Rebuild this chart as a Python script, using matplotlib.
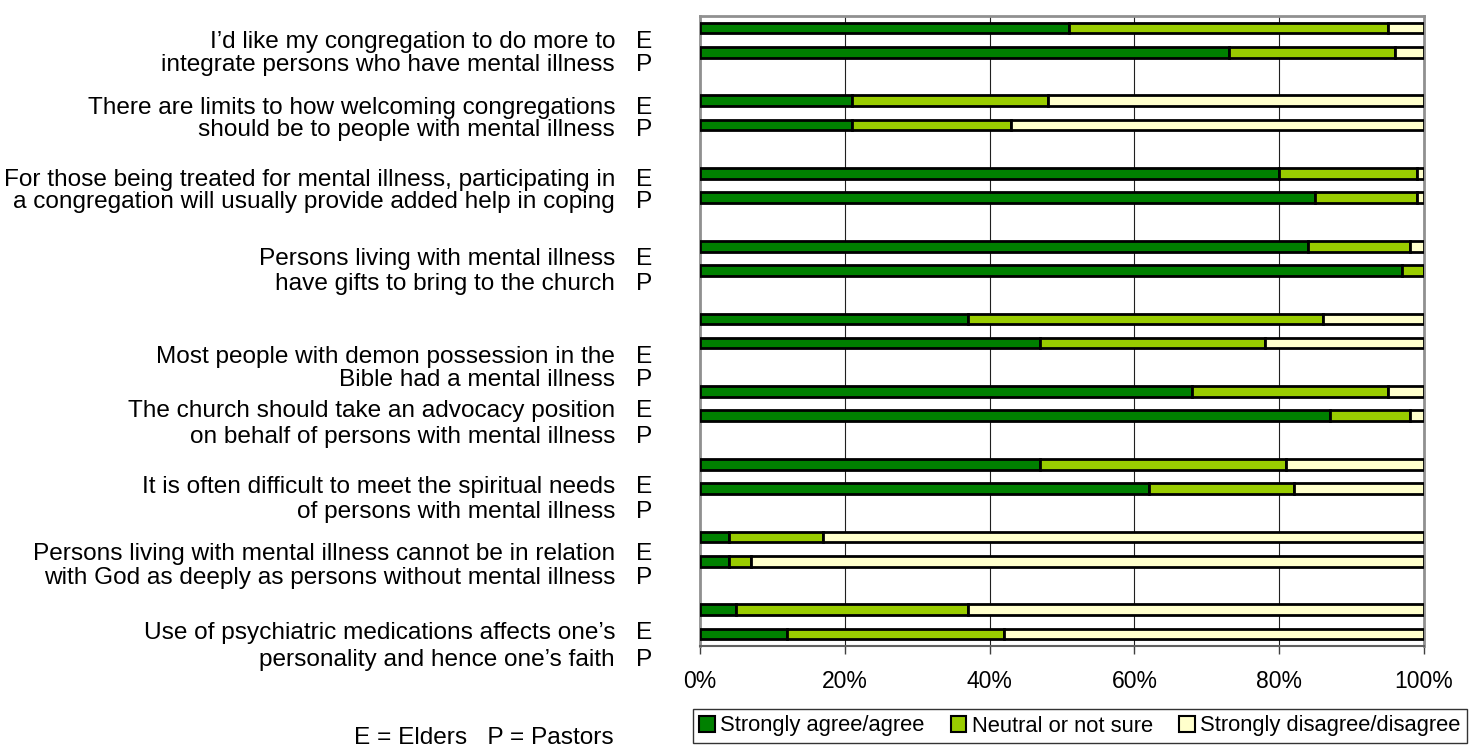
import matplotlib
matplotlib.use("Agg")
import matplotlib.pyplot as plt
from matplotlib.patches import Patch
import numpy as np

plt.rcParams['font.family'] = ['Liberation Sans', 'DejaVu Sans']

# Survey responses (%), one pair (Elders, Pastors) per statement
statements = [
    ("I\u2019d like my congregation to do more to", "integrate persons who have mental illness"),
    ("There are limits to how welcoming congregations", "should be to people with mental illness"),
    ("For those being treated for mental illness, participating in", "a congregation will usually provide added help in coping"),
    ("Persons living with mental illness", "have gifts to bring to the church"),
    ("Most people with demon possession in the", "Bible had a mental illness"),
    ("The church should take an advocacy position", "on behalf of persons with mental illness"),
    ("It is often difficult to meet the spiritual needs", "of persons with mental illness"),
    ("Persons living with mental illness cannot be in relation", "with God as deeply as persons without mental illness"),
    ("Use of psychiatric medications affects one\u2019s", "personality and hence one\u2019s faith"),
]
groups = ["E", "P"]

agree_elders    = [51, 21, 80, 84, 37, 68, 47, 4, 5]
neutral_elders  = [44, 27, 19, 14, 49, 27, 34, 13, 32]
disagree_elders = [5, 52, 1, 2, 14, 5, 19, 83, 63]

agree_pastors    = [73, 21, 85, 97, 47, 87, 62, 4, 12]
neutral_pastors  = [23, 22, 14, 3, 31, 11, 20, 3, 30]
disagree_pastors = [4, 57, 1, 0, 22, 2, 18, 93, 58]

series_names = ["Strongly agree/agree", "Neutral or not sure", "Strongly disagree/disagree"]
series_colors = ["#008000", "#99CC00", "#FFFFCC"]
tick_values = [0, 20, 40, 60, 80, 100]

W, H = 1481, 750
fig = plt.figure(figsize=(W / 100, H / 100), dpi=100)
ax = fig.add_axes([700 / W, 1 - 646 / H, 724 / W, 630 / H])

n = len(statements)
# each statement takes three slots: Elders bar, Pastors bar, blank spacer
y_e = np.arange(n) * 3
y_p = y_e + 1

def stack(y, parts):
    left = np.zeros(len(y))
    for vals, col in zip(parts, series_colors):
        vals = np.asarray(vals, dtype=float)
        ax.barh(y, vals, left=left, height=0.44, color=col,
                edgecolor="black", linewidth=2.0, zorder=3)
        left += vals

stack(y_e, [agree_elders, neutral_elders, disagree_elders])
stack(y_p, [agree_pastors, neutral_pastors, disagree_pastors])

ax.set_xlim(0, 100)
ax.set_ylim(3 * n - 1.5, -0.5)
ax.set_yticks([])
ax.set_xticks(tick_values)
ax.set_xticklabels([f"{v}%" for v in tick_values], fontsize=16.5)
ax.tick_params(axis="x", direction="out", length=6, width=1, color="#404040", pad=11)
ax.xaxis.grid(True, color="#202020", linewidth=0.8, zorder=0)
ax.set_axisbelow(True)
for side in ["top", "right", "left"]:
    ax.spines[side].set_color("#909090")
    ax.spines[side].set_linewidth(2)
ax.spines["bottom"].set_color("#606060")
ax.spines["bottom"].set_linewidth(1.5)

# statement labels with E / P markers
label_rows = [(42, 65), (108, 130), (180, 202), (259, 284), (357, 380),
              (411, 437), (487, 512), (554, 578), (633, 660)]
for (l1, l2), (r1, r2) in zip(statements, label_rows):
    for txt, yy, g in ((l1, r1, groups[0]), (l2, r2, groups[1])):
        fig.text(615 / W, 1 - yy / H, txt, ha="right", va="center", fontsize=17.6)
        fig.text(636 / W, 1 - yy / H, g, ha="left", va="center", fontsize=17.6)

fig.text(484 / W, 1 - 738 / H, "E = Elders   P = Pastors", ha="center", va="center", fontsize=17.6)

handles = [Patch(facecolor=c, edgecolor="black", linewidth=1.5) for c in series_colors]
leg = fig.legend(handles, series_names, loc="center",
                 bbox_to_anchor=((688 + 1472) / 2 / W, 1 - 726 / H),
                 ncol=3, fontsize=15.8, frameon=True, fancybox=False,
                 handlelength=0.7, handleheight=0.7, handletextpad=0.25,
                 columnspacing=1.2, borderpad=0.3, borderaxespad=0)
leg.get_frame().set_edgecolor("black")
leg.get_frame().set_linewidth(1)

fig.savefig("out.png", dpi=100)
